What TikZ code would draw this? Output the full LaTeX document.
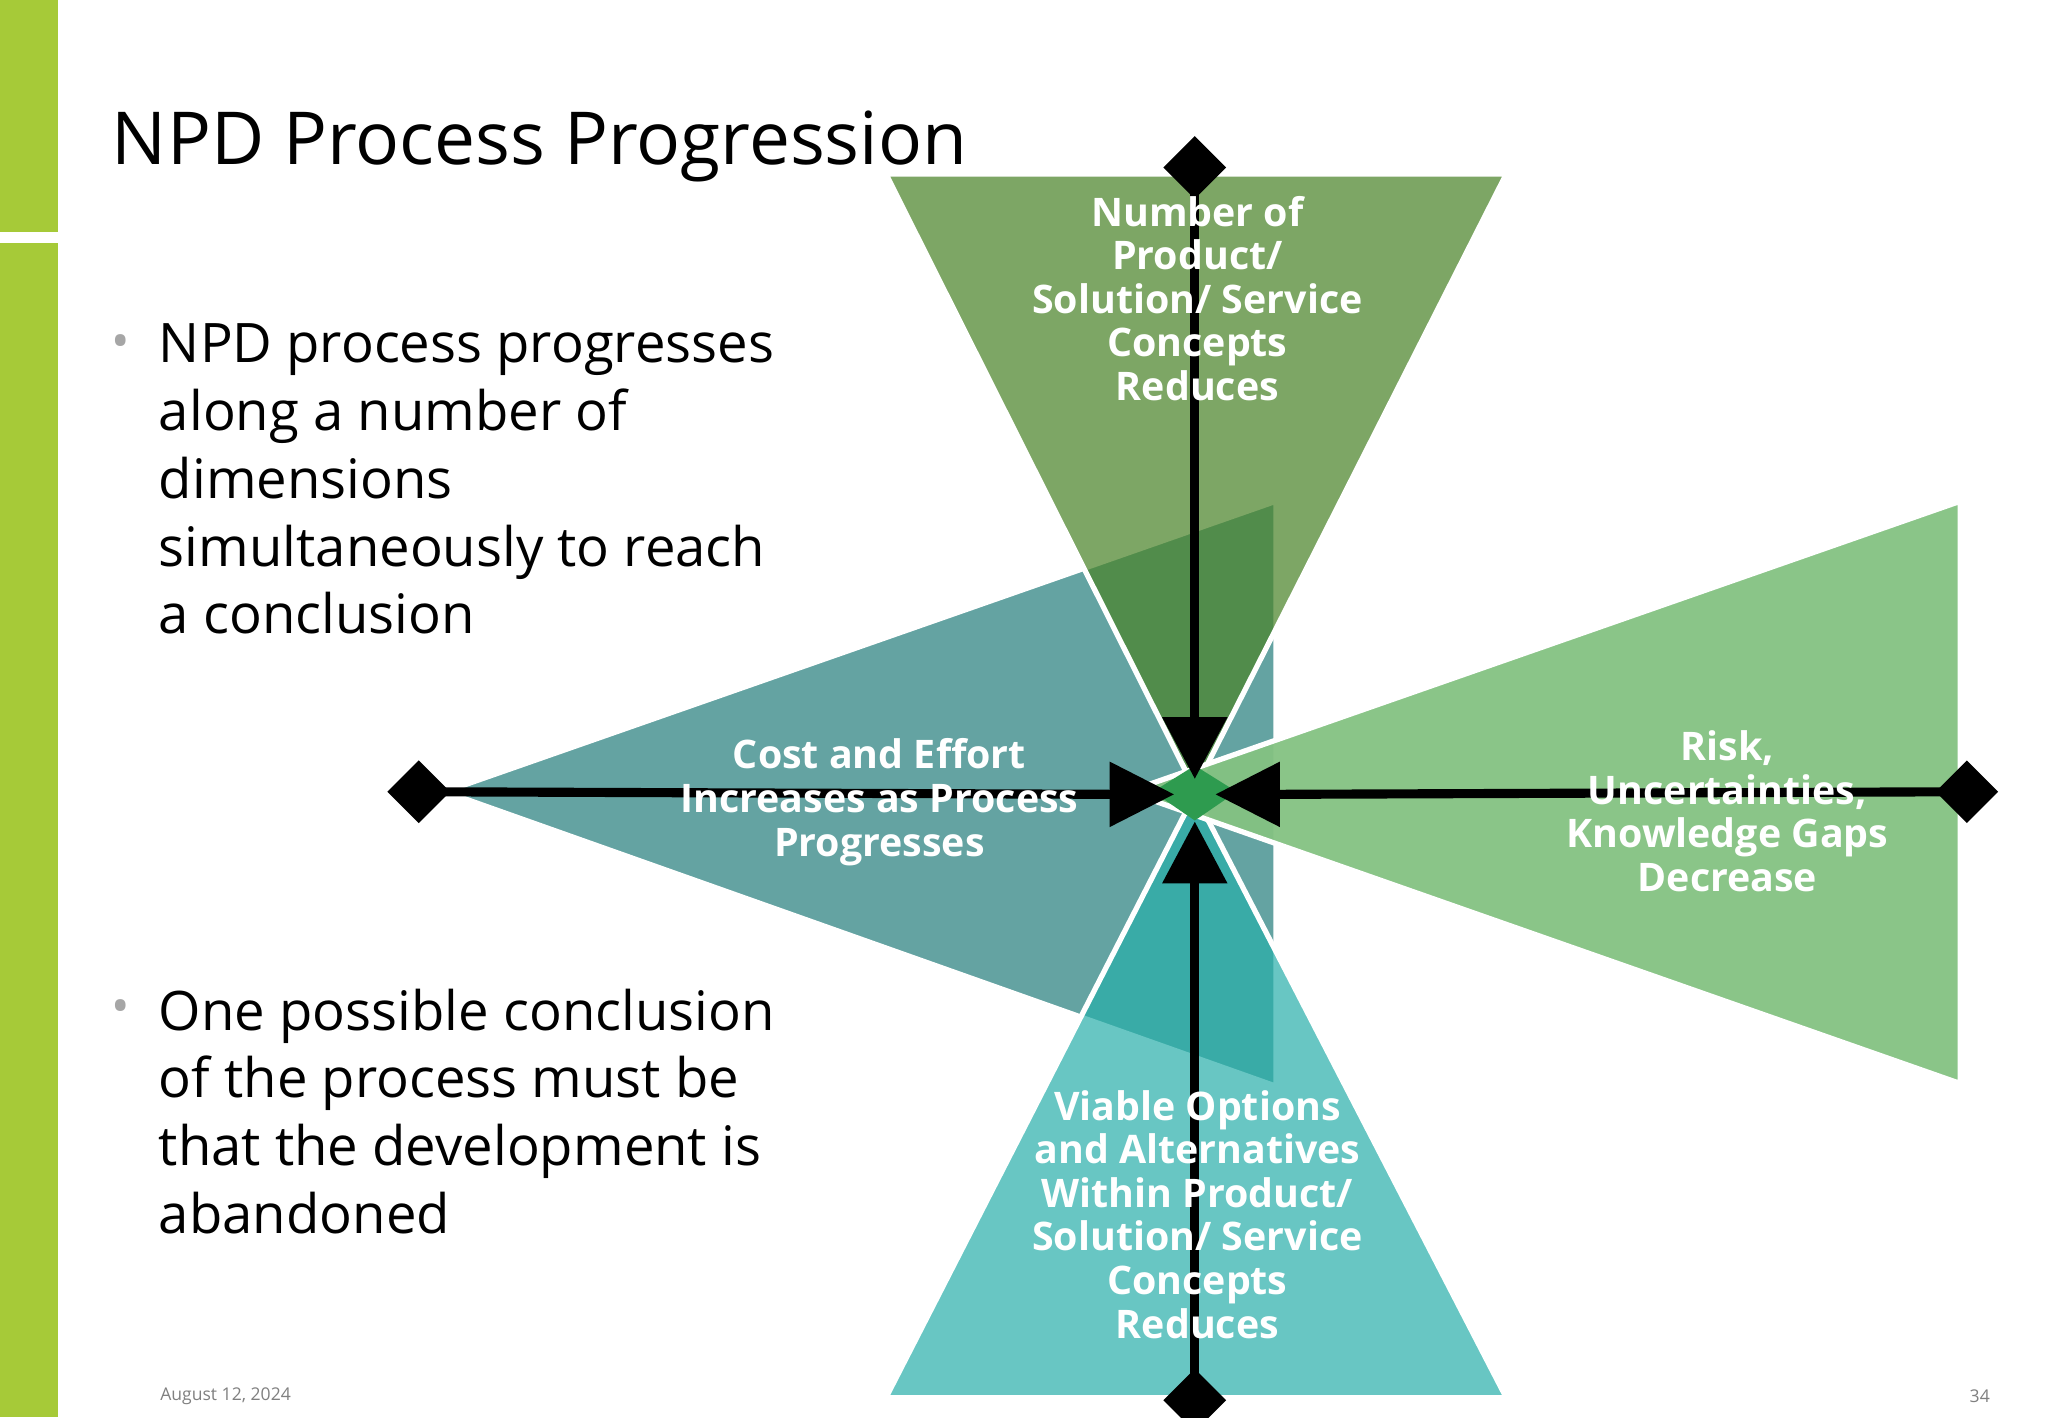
\documentclass[tikz,border=0pt]{standalone}
\usepackage{fontspec}
\setmainfont{Open Sans}
\usetikzlibrary{shapes.geometric}
\begin{document}
\begin{tikzpicture}[x=0.013086cm,y=-0.013086cm,
  tri/.style={draw=white,line width=1.5pt,line join=miter},
  lbl/.style={text=white,font=\fontsize{11.2}{12.4}\selectfont\bfseries,align=center},
  ax/.style={line width=2.6pt},
  dia/.style={fill=black,minimum size=18pt,inner sep=0,shape=diamond},
  body/.style={font=\fontsize{15.5}{19.3}\selectfont,align=left,anchor=north west}]
\useasboundingbox (0,0) rectangle (1565,1083);
\fill[white] (0,0) rectangle (1565,1083);
\definecolor{bar}{RGB}{166,202,56}
\fill[bar] (0,0) rectangle (44,177);
\fill[bar] (0,186) rectangle (44,1083);
\node[anchor=base west,font=\fontsize{20.8}{26}\selectfont,inner sep=0] (title) at (85,126) {NPD Process Progression};
\node[body] (b1) at (112,238) {NPD process progresses\\along a number of\\dimensions\\simultaneously to reach\\a conclusion};
\node[text=gray!70,font=\fontsize{14}{19}\selectfont] at (92,265) {•};
\node[body] (b2) at (112,746) {One possible conclusion\\of the process must be\\that the development is\\abandoned};
\node[text=gray!70,font=\fontsize{14}{19}\selectfont] at (92,773) {•};
\node[text=gray,font=\fontsize{5}{6}\selectfont,anchor=west] (date) at (113,1067) {August 12, 2024};
\node[text=gray,font=\fontsize{5}{6}\selectfont,anchor=east] (pg) at (1530,1067) {34};
% triangles
\path[tri,fill={rgb,255:red,100;green,163;blue,162}] (340,605) -- (975,383) -- (975,830) -- cycle;
\path[tri,fill={rgb,255:red,75;green,132;blue,42},fill opacity=0.72] (677,133) -- (1151,133) -- (913,603) -- cycle;
\path[tri,fill={rgb,255:red,40;green,175;blue,170},fill opacity=0.7] (677,1068) -- (1151,1068) -- (913,607) -- cycle;
\path[tri,fill={rgb,255:red,132;green,194;blue,130},fill opacity=0.95] (862,605) -- (1498,383) -- (1498,828) -- cycle;
\fill[fill={rgb,255:red,46;green,155;blue,79}] (913,585) -- (945,605) -- (913,627) -- (881,605) -- cycle;
% axes
\node[dia] (dt) at (913,128) {};
\node[dia] (db) at (913,1070) {};
\node[dia] (dl) at (320,605) {};
\node[dia] (dr) at (1503,605) {};
\draw[ax] (dt.center) -- (913,560);
\fill (888,548) -- (938,548) -- (913,595) -- cycle;
\draw[ax] (db.center) -- (913,670);
\fill (888,675) -- (938,675) -- (913,628) -- cycle;
\draw[ax] (dl.center) -- (855,607);
\fill (848,582) -- (848,632) -- (897,607) -- cycle;
\draw[ax] (dr.center) -- (975,607);
\fill (978,582) -- (978,632) -- (929,607) -- cycle;
% labels
\node[lbl] (top) at (915,228) {Number of\\Product/\\Solution/ Service\\Concepts\\Reduces};
\node[lbl] (left) at (672,613) {Cost and Effort\\Increases as Process\\Progresses};
\node[lbl] (right) at (1320,620) {Risk,\\Uncertainties,\\Knowledge Gaps\\Decrease};
\node[lbl] (bot) at (915,928) {Viable Options\\and Alternatives\\Within Product/\\Solution/ Service\\Concepts\\Reduces};
\end{tikzpicture}
\end{document}
